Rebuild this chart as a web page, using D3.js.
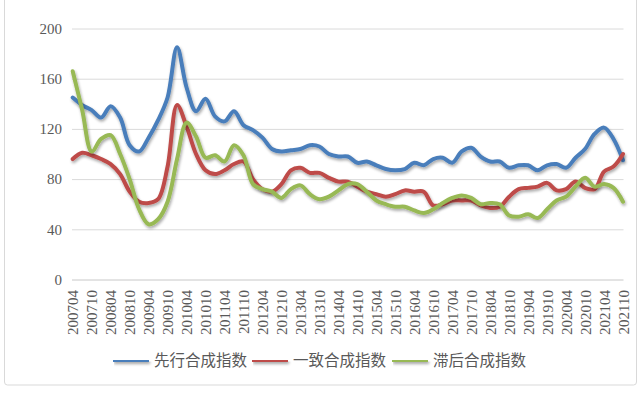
<!DOCTYPE html>
<html>
<head>
<meta charset="utf-8">
<script src="https://cdn.jsdelivr.net/npm/d3@7"></script>
<style>
  body { margin: 0; background: #fff; }
  svg { display: block; }
  .num { font-family: "Liberation Serif", "Times New Roman", serif; fill: #595959; }
</style>
</head>
<body>
<script>
// Width and height
var w = 644;
var h = 394;

// quarterly categories
var months = [
  "200704","200707","200710","200801","200804","200807","200810","200901",
  "200904","200907","200910","201001","201004","201007","201010","201101",
  "201104","201107","201110","201201","201204","201207","201210","201301",
  "201304","201307","201310","201401","201404","201407","201410","201501",
  "201504","201507","201510","201601","201604","201607","201610","201701",
  "201704","201707","201710","201801","201804","201807","201810","201901",
  "201904","201907","201910","202001","202004","202007","202010","202101",
  "202104","202107","202110"
];

var leading = [145,139,135,129,138,129,107,102,113,127,145,185,153,134,144,130,
  126,134,123,119,113,104,102,103,104,107,106,100,98,98,93,94,
  91,88,87,88,93,91,96,97,93,102,105,98,94,94,89,91,
  91,87,91,92,89,97,104,116,121,112,95];

var coincident = [96,101,99,96,92,84,70,62,61,64,90,139,122,100,87,84,
  87,92,94,80,72,70,76,87,89,85,85,81,78,78,74,70,
  68,66,68,71,70,70,59,60,63,63,63,59,57,58,66,72,
  73,74,77,71,72,78,73,72,86,90,100];

var lagging = [166,135,102,112,115,100,80,56,44,48,62,96,125,114,97,99,
  94,107,99,76,72,70,65,72,75,68,64,66,71,76,76,70,
  63,60,58,58,55,53,56,61,65,67,65,60,61,60,51,50,
  52,49,56,63,66,74,81,74,76,73,62];

var yTicks = [0, 40, 80, 120, 160, 200];

var seriesNames = ["先行合成指数", "一致合成指数", "滞后合成指数"];
var seriesColors = ["#4a7ebb", "#be4b48", "#98b954"];
var seriesData = [leading, coincident, lagging];

var xScale = d3.scalePoint()
    .domain(months)
    .range([72.7, 623]);

var yScale = d3.scaleLinear()
    .domain([0, 200])
    .range([279.5, 28.5]);

// Create SVG element
var svg = d3.select("body")
    .append("svg")
    .attr("width", w)
    .attr("height", h);

// soft shadow like the office chart
var defs = svg.append("defs");
var f = defs.append("filter").attr("id", "shadow")
    .attr("filterUnits", "userSpaceOnUse")
    .attr("x", 0).attr("y", 0).attr("width", w).attr("height", h);
f.append("feGaussianBlur").attr("in", "SourceAlpha").attr("stdDeviation", 1.4).attr("result", "b");
f.append("feOffset").attr("in", "b").attr("dx", 1).attr("dy", 1.5).attr("result", "o");
f.append("feComponentTransfer").attr("in", "o").attr("result", "s")
  .append("feFuncA").attr("type", "linear").attr("slope", 0.35);
var fm = f.append("feMerge");
fm.append("feMergeNode").attr("in", "s");
fm.append("feMergeNode").attr("in", "SourceGraphic");

// outer frame
svg.append("rect")
    .attr("x", 4.5).attr("y", -3)
    .attr("width", 632).attr("height", 388)
    .attr("rx", 3)
    .attr("fill", "#fff")
    .attr("stroke", "#d9d9d9");

// y axis with grid
var yAxis = d3.axisLeft(yScale)
    .tickValues(yTicks)
    .tickSize(-(623.5 - 72))
    .tickPadding(10);

var gy = svg.append("g")
    .attr("transform", "translate(72,0)")
    .call(yAxis);
gy.select(".domain").remove();
gy.selectAll(".tick line")
    .attr("stroke", function(d) { return d === 0 ? "#c8c8c8" : "#dadada"; })
    .attr("stroke-width", 1);
gy.selectAll(".tick text")
    .attr("class", "num")
    .style("font-size", "15px");

// x axis
var xAxis = d3.axisBottom(xScale)
    .tickValues(months.filter(function(d, i) { return i % 2 === 0; }))
    .tickSize(0)
    .tickPadding(0);

var gx = svg.append("g")
    .attr("transform", "translate(0,280)")
    .call(xAxis);
gx.select(".domain").remove();
gx.selectAll(".tick text")
    .attr("class", "num")
    .style("font-size", "15px")
    .attr("text-anchor", "end")
    .attr("dy", "0.35em")
    .attr("transform", "translate(0,10) rotate(-90)")
    .attr("x", 0)
    .attr("y", 0);

// lines
var line = d3.line()
    .x(function(d, i) { return xScale(months[i]); })
    .y(function(d) { return yScale(d); })
    .curve(d3.curveCatmullRom.alpha(0.5));

svg.selectAll("path.series")
    .data(seriesData)
    .enter()
    .append("path")
    .attr("class", "series")
    .attr("d", line)
    .attr("fill", "none")
    .attr("stroke", function(d, i) { return seriesColors[i]; })
    .attr("stroke-width", 4)
    .attr("stroke-linejoin", "round")
    .attr("stroke-linecap", "round")
    .attr("filter", "url(#shadow)");

// legend
var legendX = [113, 252, 392];
var legend = svg.selectAll("g.legend")
    .data(seriesNames)
    .enter()
    .append("g")
    .attr("class", "legend")
    .attr("transform", function(d, i) { return "translate(" + legendX[i] + ",360)"; });

legend.append("rect")
    .attr("x", 0).attr("y", -2)
    .attr("width", 36).attr("height", 4)
    .attr("fill", function(d, i) { return seriesColors[i]; })
    .attr("filter", "url(#shadow)");

legend.append("text")
    .text(function(d) { return d; })
    .attr("x", 41)
    .attr("y", 0)
    .attr("dy", "0.36em")
    .attr("font-family", "'Noto Sans CJK SC', sans-serif")
    .attr("font-size", "15.5px")
    .attr("fill", "#595959");
</script>
</body>
</html>
